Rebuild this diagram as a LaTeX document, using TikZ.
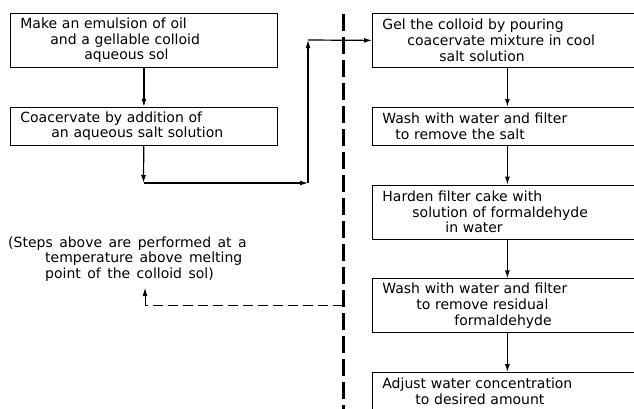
\documentclass[tikz,border=0pt]{standalone}
\usepackage{fontspec}
\setmainfont{DejaVu Sans}[WordSpace=1.45]
\usetikzlibrary{positioning,arrows.meta}

\begin{document}
\begin{tikzpicture}[
  x=1pt, y=-1pt,
  node distance=39pt,
  every node/.style={font=\fontsize{14}{15.7}\selectfont},
  stepbox/.style={draw, line width=0.8pt, align=left, inner xsep=10pt},
  leftbox/.style={stepbox, text width=247pt},
  rightbox/.style={stepbox, text width=250pt},
  tall/.style={minimum height=54pt},
  short/.style={minimum height=38pt},
  arrow/.style={-{Latex[length=8pt,width=5pt]}, line width=1.2pt},
  divider/.style={line width=3pt, dash pattern=on 17pt off 6pt},
  back/.style={line width=0.8pt, dash pattern=on 10pt off 5pt}
]
\useasboundingbox (0,0) rectangle (634,408);

% left column
\node[leftbox, tall, anchor=north west] (emulsion) at (10,13)
  {Make an emulsion of oil\\
   \hspace*{30pt}and a gellable colloid\\
   \hspace*{64pt}aqueous sol};
\node[leftbox, short, below=of emulsion] (coacervate)
  {Coacervate by addition of\\
   \hspace*{31pt}an aqueous salt solution};

% right column
\node[rightbox, tall, anchor=north west] (gel) at (372,13)
  {Gel the colloid by pouring\\
   \hspace*{25pt}coacervate mixture in cool\\
   \hspace*{57pt}salt solution};
\node[rightbox, short, below=of gel] (wash)
  {Wash with water and filter\\
   \hspace*{13pt}to remove the salt};
\node[rightbox, tall, below=of wash] (harden)
  {Harden filter cake with\\
   \hspace*{30pt}solution of formaldehyde\\
   \hspace*{63pt}in water};
\node[rightbox, tall, below=of harden] (rewash)
  {Wash with water and filter\\
   \hspace*{34pt}to remove residual\\
   \hspace*{72pt}formaldehyde};
\node[rightbox, short, below=of rewash] (adjust)
  {Adjust water concentration\\
   \hspace*{33pt}to desired amount};

% note
\node[align=left, inner xsep=8pt, anchor=west] (note) at (0,259)
  {(Steps above are performed at a\\
   \hspace*{37pt}temperature above melting\\
   \hspace*{37pt}point of the colloid sol)};

\coordinate (turn1) at (143.5,183);
\coordinate (turn2) at (308,183);
\coordinate (turn3) at (308,40);
\coordinate (divtop) at (343,14);
\coordinate (divbot) at (343,410);
\coordinate (back1) at (343,305);
\coordinate (back2) at (145,305);

\draw[arrow] (emulsion) -- (coacervate);
\draw[arrow] (coacervate) -- (turn1);
\draw[arrow] (turn1) -- (turn2);
\draw[arrow] (turn2) -- (turn3);
\draw[arrow] (turn3) -- (gel.west);
\draw[arrow] (gel) -- (wash);
\draw[arrow] (wash) -- (harden);
\draw[arrow] (harden) -- (rewash);
\draw[arrow] (rewash) -- (adjust);

\draw[divider] (divtop) -- (divbot);
\draw[back] (back1) -- (back2);
\draw[arrow, line width=0.8pt, shorten >=3pt] (back2) -- (back2 |- note.south);
\end{tikzpicture}
\end{document}
